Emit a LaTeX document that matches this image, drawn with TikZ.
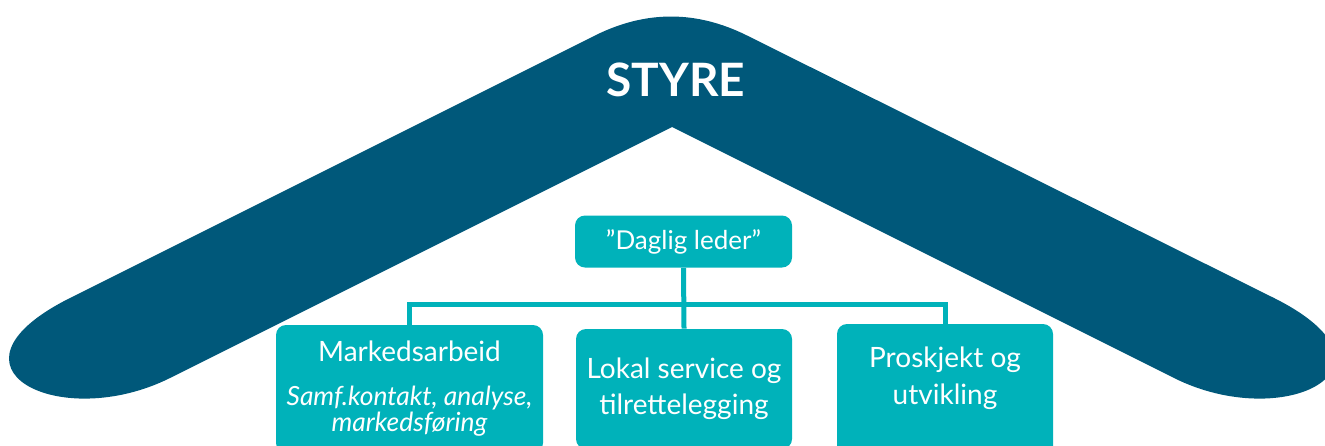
\documentclass[tikz,border=0pt]{standalone}
\usepackage{fontspec}
\setmainfont{Lato}
\usepackage{tikz}
\usetikzlibrary{positioning}
\usepackage{xcolor}
\definecolor{roofblue}{RGB}{0,88,122}
\definecolor{boxteal}{RGB}{0,178,186}
\newcommand{\subtxt}[1]{{\itshape\fontsize{13.2}{14}\selectfont #1}}

\begin{document}
\begin{tikzpicture}[x=0.5pt, y={(0pt,-0.5pt)},
  box/.style={fill=boxteal, rounded corners=5pt, text=white, align=center,
    inner sep=0pt, font=\fontsize{14}{18}\selectfont},
  boxtext/.style={text=white, align=center, inner sep=0pt,
    font=\fontsize{14}{18.5}\selectfont},
  conn/.style={draw=boxteal, line width=2.5pt}]
  \useasboundingbox (0,0) rectangle (1325,445);
  \clip (0,0) rectangle (1325,445);

  % the roof
  \fill[roofblue] (70,298) -- (595,35.5)
    .. controls (645.7,10.2) and (696.3,10.2) .. (747,35.5)
    -- (1274,298) .. controls (1414,368) and (1284,433) .. (1174,378)
    -- (672,127) -- (170,378)
    .. controls (60,433) and (-70,368) .. (70,298) -- cycle;
  \node[text=white, font=\bfseries\fontsize{23}{26}\selectfont] (styre) at (676,80) {STYRE};

  % boxes
  \node[box, font=\fontsize{13}{16}\selectfont, minimum width=108.5pt, minimum height=26pt]
    (daglig) at (683.5,241.5) {”Daglig leder”};
  \node[box, minimum width=133.5pt, minimum height=64pt] (mark) at (409.5,389)
    {Markedsarbeid\\[4pt]\subtxt{Samf.kontakt, analyse,}\\[-5pt]\subtxt{markedsføring}};
  \node[box, minimum width=108pt, minimum height=60pt] (lokal) at (684,389)
    {Lokal service og\\tilrettelegging};
  \node[box, minimum width=108pt, minimum height=68pt] (prosj) at (945,392) {};
  \node[boxtext] (prosjTxt) at (945,378) {Proskjekt og\\utvikling};

  % connectors
  \coordinate (bus) at (683.5,304);
  \draw[conn] (daglig.south) -- (lokal.north);
  \draw[conn] (mark.north) |- (bus) -| (prosj.north);
\end{tikzpicture}
\end{document}
